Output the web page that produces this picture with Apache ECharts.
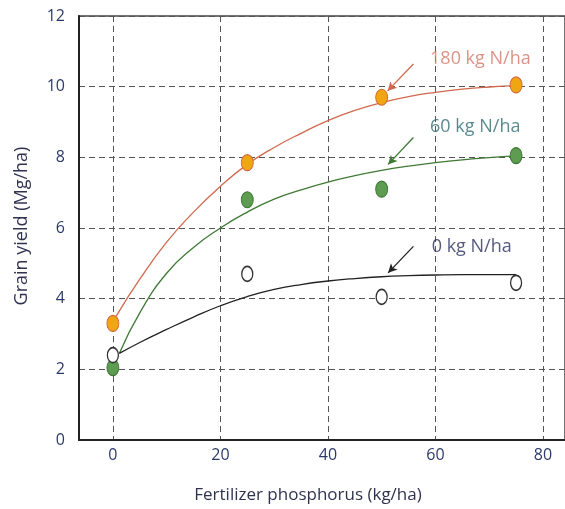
<!DOCTYPE html>
<html>
<head>
<meta charset="utf-8">
<script src="https://cdn.jsdelivr.net/npm/echarts@6/dist/echarts.min.js"></script>
<style>html,body{margin:0;padding:0;background:#fff}#c{width:565px;height:509px}</style>
</head>
<body>
<div id="c"></div>
<script>
// ---- data ----
const xTicks = [0, 20, 40, 60, 80];
const phosphorus = [0, 25, 50, 75];
const yield180 = [3.3, 7.85, 9.7, 10.05];
const yield60 = [2.05, 6.8, 7.1, 8.05];
const yield0 = [2.4, 4.7, 4.05, 4.45];
// fitted curves [x, y]
const curve180 = [[0.6,3.5],[5,4.55],[10,5.6],[15,6.45],[20,7.18],[25,7.8],[30,8.28],[35,8.68],[40,9.04],[45,9.33],[50,9.55],[55,9.72],[60,9.84],[65,9.93],[70,9.99],[75,10.03]];
const curve60 = [[1.2,2.45],[5,3.6],[10,4.72],[15,5.45],[20,6.0],[25,6.45],[30,6.82],[35,7.08],[40,7.3],[45,7.48],[50,7.63],[55,7.75],[60,7.85],[65,7.93],[70,7.99],[75,8.04]];
const curve0 = [[1.2,2.45],[5,2.76],[10,3.13],[15,3.48],[20,3.8],[25,4.06],[30,4.26],[35,4.4],[40,4.5],[45,4.57],[50,4.62],[55,4.65],[60,4.67],[65,4.68],[70,4.68],[75,4.68]];
const labels = ['180 kg N/ha', '60 kg N/ha', '0 kg N/ha'];
const labelPos = [[59, 10.8], [59, 8.85], [59.3, 5.47]];
const arrows = [[[55.9,10.64],[51.1,9.88]], [[55.9,8.56],[51.2,7.8]], [[55.9,5.48],[51.2,4.73]]];

const FONT = '"Open Sans", Lato, sans-serif';
const colRed = '#d0694f', colGreen = '#3f7a35', colBlack = '#222';
const txtCols = ['#d27868', '#2f6b72', '#2a2f5e'];

const chart = echarts.init(document.getElementById('c'));
const ptData = arr => phosphorus.map((x, i) => [x, arr[i]]);
const arrowSeries = (idx, color) => ({
  type: 'line', data: [], silent: true,
  markLine: {
    silent: true, symbol: ['none', 'arrow'], symbolSize: [7, 9], label: {show: false},
    lineStyle: {color: color, width: 1.3, type: 'solid'},
    data: [[{coord: arrows[idx][0]}, {coord: arrows[idx][1]}]]
  }
});
const textSeries = idx => ({
  type: 'scatter', silent: true, symbolSize: 0, data: [labelPos[idx]],
  label: {show: true, position: 'right', distance: 0, formatter: labels[idx],
    color: txtCols[idx], fontFamily: FONT, fontSize: 18}
});
const curveSeries = (data, color) => ({
  type: 'line', smooth: 0.5, showSymbol: false, data: data,
  lineStyle: {color: color, width: 1.3}, silent: true
});

chart.setOption({
  animation: false,
  grid: {left: 79, top: 16, right: -2, bottom: 69, show: true, borderColor: '#444', borderWidth: 1.5},
  xAxis: {
    type: 'value', min: -6.3, max: 84.1,
    axisLine: {onZero: false, lineStyle: {color: '#222', width: 2}},
    axisTick: {show: false, customValues: xTicks},
    axisLabel: {customValues: xTicks, color: '#2c3a6b', fontFamily: FONT, fontSize: 16, margin: 7},
    splitLine: {show: true, lineStyle: {color: '#555', width: 1, type: [6, 4]}}
  },
  yAxis: {
    type: 'value', min: 0, max: 12, interval: 2,
    axisLine: {show: true, onZero: false, lineStyle: {color: '#222', width: 2}},
    axisTick: {show: false},
    axisLabel: {color: '#2c3a6b', fontFamily: FONT, fontSize: 16, margin: 14},
    splitLine: {show: true, lineStyle: {color: '#555', width: 1, type: [6, 4]}}
  },
  graphic: [
    {type: 'text', x: 308, y: 495, style: {text: 'Fertilizer phosphorus (kg/ha)', fill: '#2f3350', font: '17px ' + FONT, align: 'center', verticalAlign: 'middle'}},
    {type: 'text', x: 22, y: 226, rotation: Math.PI / 2, style: {text: 'Grain yield (Mg/ha)', fill: '#2f3350', font: '18px ' + FONT, align: 'center', verticalAlign: 'middle'}}
  ],
  series: [
    curveSeries(curve180, colRed),
    curveSeries(curve60, colGreen),
    curveSeries(curve0, colBlack),
    {type: 'scatter', data: ptData(yield0), symbol: 'circle', symbolSize: [11, 15], itemStyle: {color: '#fff', borderColor: '#333', borderWidth: 1.5, opacity: 1}, z: 5},
    {type: 'scatter', data: ptData(yield60), symbol: 'circle', symbolSize: [12, 16], itemStyle: {color: '#5e9c52', borderColor: '#3d7532', borderWidth: 1, opacity: 1}, z: 4},
    {type: 'scatter', data: ptData(yield180), symbol: 'circle', symbolSize: [12, 16], itemStyle: {color: '#f0a512', borderColor: '#d0683a', borderWidth: 1, opacity: 1}, z: 6},
    arrowSeries(0, colRed), arrowSeries(1, colGreen), arrowSeries(2, colBlack),
    textSeries(0), textSeries(1), textSeries(2)
  ]
});
</script>
</body>
</html>
